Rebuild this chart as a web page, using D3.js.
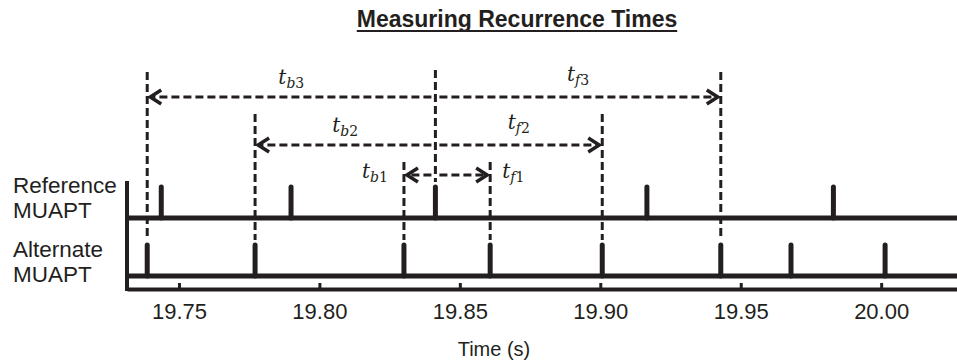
<!DOCTYPE html>
<html>
<head>
<meta charset="utf-8">
<script src="https://cdn.jsdelivr.net/npm/d3@7"></script>
<style>
  body { margin: 0; background: #fff; }
  text { font-family: Arial, "Liberation Sans", sans-serif; fill: #231f20; }
  .math { font-family: "DejaVu Serif", serif; }
</style>
</head>
<body>
<svg id="chart"></svg>
<script>
// spike times (s)
const refTimes = [19.7437, 19.7899, 19.8413, 19.9166, 19.9830];
const altTimes = [19.7387, 19.7771, 19.8301, 19.8608, 19.9007, 19.9429, 19.9679, 20.0014];
const tickValues = [19.75, 19.80, 19.85, 19.90, 19.95, 20.00];
const trainNames = ["Reference", "Alternate"];
const trainLabels = [["Reference", "MUAPT"], ["Alternate", "MUAPT"]];
const anchorIdx = 2;
const levels = [1, 2, 3];
const backIdx = [2, 1, 0];   // alternate firings before the anchor
const fwdIdx = [3, 4, 5];    // alternate firings after the anchor

const width = 957, height = 363;
const ink = "#231f20";

const svg = d3.select("#chart").attr("width", width).attr("height", height);

const x = d3.scaleLinear().domain([19.7315, 20.027]).range([127, 957]);
const trainY = d3.scaleOrdinal().domain(trainNames).range([218, 276]);
const levelY = d3.scaleOrdinal().domain(levels).range([175, 145, 97]);
const levelTop = d3.scaleOrdinal().domain(levels).range([162, 114, 72]);
const spikeH = 31;
const axisY = 289;

// title
const title = svg.append("text")
  .attr("x", 517).attr("y", 27)
  .attr("text-anchor", "middle")
  .style("font-size", "23px").style("font-weight", "bold")
  .text("Measuring Recurrence Times");
const tw = title.node().getComputedTextLength();
svg.append("line")
  .attr("x1", 517 - tw / 2).attr("x2", 517 + tw / 2)
  .attr("y1", 31).attr("y2", 31)
  .attr("stroke", ink).attr("stroke-width", 2);

// dashed guides
const anchor = refTimes[anchorIdx];
const dash = "8,4";
const guides = svg.append("g")
  .attr("stroke", ink).attr("stroke-width", 3).attr("stroke-dasharray", dash).attr("fill", "none");

guides.append("line")
  .attr("x1", x(anchor)).attr("x2", x(anchor))
  .attr("y1", 70).attr("y2", trainY("Reference") - spikeH - 5);

const arrows = [];
levels.forEach((lv, i) => {
  arrows.push({ lv, t: altTimes[backIdx[i]], sub: "b", n: lv, dir: -1 });
  arrows.push({ lv, t: altTimes[fwdIdx[i]], sub: "f", n: lv, dir: 1 });
});

guides.selectAll(".vguide").data(arrows).join("line")
  .attr("class", "vguide")
  .attr("x1", d => x(d.t)).attr("x2", d => x(d.t))
  .attr("y1", d => levelTop(d.lv))
  .attr("y2", trainY("Alternate") - spikeH - 5);

guides.selectAll(".hguide").data(arrows).join("line")
  .attr("class", "hguide")
  .attr("x1", d => x(anchor) + d.dir * 4)
  .attr("x2", d => x(d.t) - d.dir * 6)
  .attr("y1", d => levelY(d.lv)).attr("y2", d => levelY(d.lv));

// arrow heads
svg.append("g").selectAll("path").data(arrows).join("path")
  .attr("d", d => {
    const tx = x(d.t) - d.dir * 3, ty = levelY(d.lv);
    return `M${tx - d.dir * 11},${ty - 7}L${tx},${ty}L${tx - d.dir * 11},${ty + 7}`;
  })
  .attr("fill", "none").attr("stroke", ink).attr("stroke-width", 3.5);

// t labels
const lab = svg.append("g").selectAll("text").data(arrows).join("text")
  .attr("class", "math")
  .style("font-size", "20px").style("font-style", "italic")
  .attr("x", d => d.lv === 1
    ? (d.dir < 0 ? x(d.t) - 16 : x(d.t) + 12)
    : (x(anchor) + x(d.t)) / 2)
  .attr("y", d => d.lv === 1 ? levelY(d.lv) + 3 : levelY(d.lv) - 13 - (d.sub === "f" ? 3 : 0))
  .attr("text-anchor", d => d.lv === 1 ? (d.dir < 0 ? "end" : "start") : "middle");
lab.append("tspan").text("t");
lab.append("tspan").attr("dy", 4).style("font-size", "14px").text(d => d.sub);
lab.append("tspan").style("font-size", "14px").style("font-style", "normal").text(d => d.n);

// spike trains
const trains = [refTimes, altTimes];
trainNames.forEach((name, i) => {
  const g = svg.append("g");
  g.append("line")
    .attr("x1", x.range()[0]).attr("x2", x.range()[1])
    .attr("y1", trainY(name)).attr("y2", trainY(name))
    .attr("stroke", ink).attr("stroke-width", 5);
  g.selectAll("line.spike").data(trains[i]).join("line")
    .attr("class", "spike")
    .attr("x1", d => x(d)).attr("x2", d => x(d))
    .attr("y1", trainY(name)).attr("y2", trainY(name) - spikeH)
    .attr("stroke", ink).attr("stroke-width", 5).attr("stroke-linecap", "round");
  trainLabels[i].forEach((s, j) => {
    svg.append("text")
      .attr("x", 13).attr("y", trainY(name) - 25 + j * 25 - (i === 0 ? 0 : -6))
      .style("font-size", "22.5px")
      .text(s);
  });
});

// axes
svg.append("line")
  .attr("x1", x.range()[0]).attr("x2", x.range()[0])
  .attr("y1", 181).attr("y2", axisY + 2)
  .attr("stroke", ink).attr("stroke-width", 4);

const xAxis = d3.axisBottom(x)
  .tickValues(tickValues)
  .tickFormat(d3.format(".2f"))
  .tickSizeInner(-6).tickSizeOuter(0).tickPadding(14);
const ax = svg.append("g").attr("transform", `translate(0,${axisY})`).call(xAxis);
ax.select(".domain").attr("stroke", ink).attr("stroke-width", 4);
ax.selectAll(".tick line").attr("stroke", ink).attr("stroke-width", 3);
ax.selectAll(".tick text")
  .style("font-size", "22px").style("font-family", "Arial, 'Liberation Sans', sans-serif")
  .attr("fill", ink);

svg.append("text")
  .attr("x", 494).attr("y", 356)
  .attr("text-anchor", "middle")
  .style("font-size", "20px")
  .text("Time (s)");
</script>
</body>
</html>
